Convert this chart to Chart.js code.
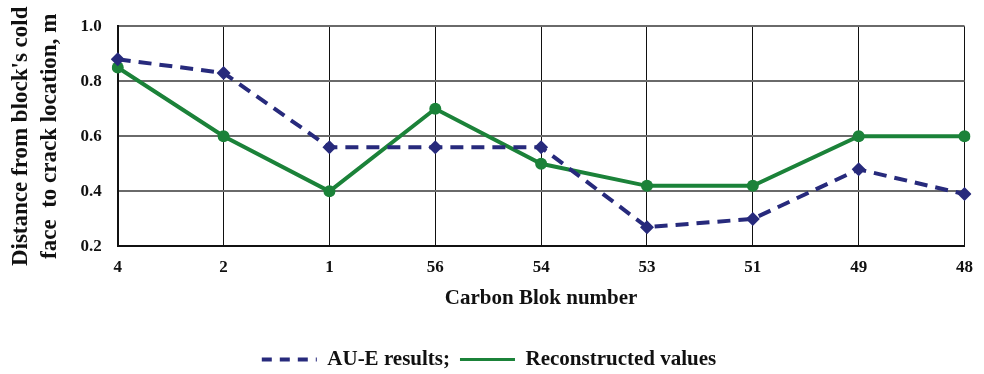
<!DOCTYPE html>
<html>
<head>
<meta charset="utf-8">
<script src="https://cdn.jsdelivr.net/npm/chart.js@4/dist/chart.umd.min.js"></script>
<style>
  html, body { margin: 0; padding: 0; background: #fff; }
  #wrap { width: 984px; height: 374px; }
</style>
</head>
<body>
<div id="wrap"><canvas id="c" width="984" height="374"></canvas></div>
<script>
// Carbon block numbers along the x axis
const blocks = ["4", "2", "1", "56", "54", "53", "51", "49", "48"];
// Distance from cold face to crack, m
const aueResults = [0.88, 0.83, 0.56, 0.56, 0.56, 0.27, 0.30, 0.48, 0.39];
const reconstructed = [0.85, 0.60, 0.40, 0.70, 0.50, 0.42, 0.42, 0.60, 0.60];
const yTicks = [0.2, 0.4, 0.6, 0.8, 1.0];

const serif = "'Liberation Serif', 'Times New Roman', serif";
const navy = "#272a7c";
const green = "#1b8239";

new Chart(document.getElementById("c"), {
  type: "line",
  data: {
    labels: blocks,
    datasets: [
      {
        label: "AU-E results;",
        data: aueResults,
        borderColor: navy,
        backgroundColor: navy,
        borderWidth: 4,
        borderDash: [13, 8],
        pointStyle: "rectRot",
        pointRadius: 7,
        pointBorderWidth: 0,
        tension: 0,
      },
      {
        label: "Reconstructed values",
        data: reconstructed,
        borderColor: green,
        backgroundColor: green,
        borderWidth: 4,
        pointStyle: "circle",
        pointRadius: 6,
        pointBorderWidth: 0,
        tension: 0,
      },
    ],
  },
  options: {
    responsive: false,
    animation: false,
    layout: { padding: { left: 7, right: 13, top: 18, bottom: -6 } },
    plugins: {
      tooltip: { enabled: false },
      legend: {
        position: "bottom",
        labels: {
          usePointStyle: true,
          pointStyleWidth: 55,
          boxHeight: 8,
          padding: 10,
          color: "#111",
          font: { family: serif, size: 21, weight: "bold", lineHeight: 1.0 },
          generateLabels: (chart) =>
            chart.data.datasets.map((ds, i) => ({
              text: ds.label,
              datasetIndex: i,
              pointStyle: "line",
              strokeStyle: ds.borderColor,
              fillStyle: ds.borderColor,
              lineWidth: i === 0 ? 4 : 3,
              lineDash: i === 0 ? [10, 8] : [],
              fontColor: "#111",
            })),
        },
      },
    },
    scales: {
      x: {
        offset: false,
        grid: { color: "#111", lineWidth: 1, drawTicks: false },
        border: { color: "#111", width: 2 },
        ticks: {
          padding: 11,
          color: "#111",
          font: { family: serif, size: 17, weight: "bold" },
          maxRotation: 0,
        },
        title: {
          display: true,
          text: "Carbon Blok number",
          color: "#111",
          padding: { top: -3, bottom: 28 },
          font: { family: serif, size: 21, weight: "bold" },
        },
      },
      y: {
        min: 0.2,
        max: 1.0,
        afterBuildTicks: (axis) => {
          axis.ticks = yTicks.map((v) => ({ value: v }));
        },
        grid: { color: "#6a6a6a", lineWidth: 2, drawTicks: false },
        border: { color: "#111", width: 2 },
        ticks: {
          padding: 16,
          color: "#111",
          font: { family: serif, size: 17, weight: "bold" },
          callback: (v) => Number(v).toFixed(1),
        },
        title: {
          display: true,
          text: ["Distance from block's cold", "face  to crack location, m"],
          color: "#111",
          padding: { top: 0, bottom: 0 },
          font: { family: serif, size: 23, weight: "bold", lineHeight: 1.25 },
        },
      },
    },
  },
});
</script>
</body>
</html>
